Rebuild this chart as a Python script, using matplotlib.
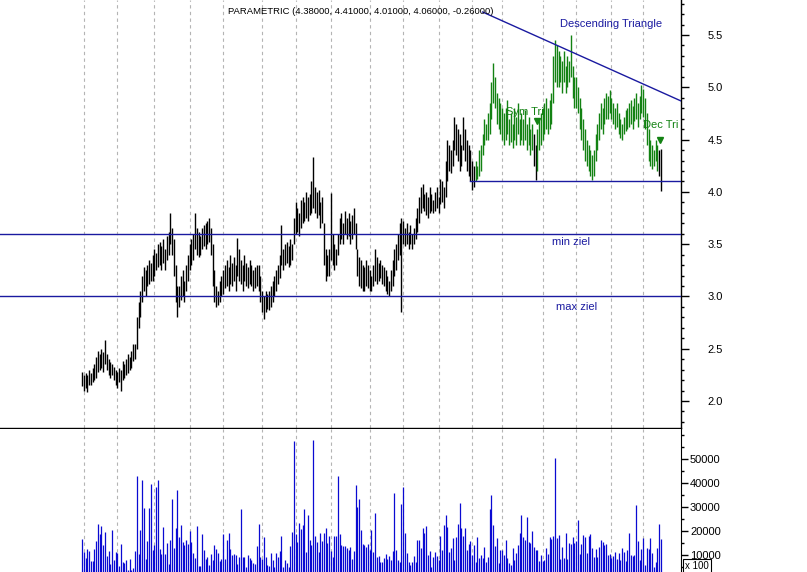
import numpy as np
import matplotlib
matplotlib.use("Agg")
import matplotlib.pyplot as plt
from matplotlib.ticker import MultipleLocator, FixedLocator, FormatStrFormatter

plt.rcParams['font.family'] = ['Liberation Sans', 'DejaVu Sans']

# daily bars, high / low (one row = 10 sessions)
bar_high = [
    2.28, 2.25, 2.27, 2.25, 2.30, 2.27, 2.32, 2.35, 2.42, 2.48,
    2.45, 2.50, 2.47, 2.58, 2.45, 2.40, 2.37, 2.35, 2.33, 2.30,
    2.28, 2.32, 2.30, 2.38, 2.35, 2.40, 2.45, 2.42, 2.48, 2.55,
    2.55, 2.80, 2.95, 3.05, 3.20, 3.28, 3.25, 3.30, 3.35, 3.32,
    3.40, 3.45, 3.42, 3.50, 3.52, 3.48, 3.55, 3.45, 3.58, 3.62,
    3.80, 3.65, 3.55, 3.30, 3.10, 3.10, 3.20, 3.25, 3.15, 3.30,
    3.40, 3.50, 3.55, 3.60, 3.80, 3.65, 3.62, 3.58, 3.65, 3.68,
    3.70, 3.72, 3.75, 3.65, 3.50, 3.25, 3.10, 3.05, 3.15, 3.20,
    3.25, 3.30, 3.35, 3.28, 3.40, 3.32, 3.38, 3.30, 3.56, 3.45,
    3.35, 3.30, 3.40, 3.32, 3.28, 3.35, 3.30, 3.25, 3.28, 3.30,
    3.30, 3.20, 3.05, 3.00, 3.05, 3.02, 3.05, 3.10, 3.15, 3.20,
    3.25, 3.30, 3.40, 3.68, 3.45, 3.50, 3.52, 3.48, 3.55, 3.50,
    3.75, 3.90, 3.85, 3.80, 3.92, 3.95, 3.90, 4.00, 3.95, 3.98,
    4.10, 4.33, 4.05, 4.00, 4.02, 3.90, 3.95, 3.70, 3.45, 3.40,
    3.45, 3.99, 3.60, 3.50, 3.45, 3.60, 3.75, 3.80, 3.70, 3.82,
    3.75, 3.80, 3.72, 3.78, 3.85, 3.70, 3.45, 3.38, 3.35, 3.30,
    3.28, 3.35, 3.30, 3.25, 3.20, 3.30, 3.45, 3.38, 3.32, 3.35,
    3.30, 3.28, 3.25, 3.20, 3.15, 3.25, 3.35, 3.45, 3.50, 3.60,
    3.70, 3.75, 3.72, 3.65, 3.70, 3.62, 3.68, 3.60, 3.65, 3.75,
    3.85, 3.95, 4.05, 4.08, 3.98, 4.00, 3.95, 4.05, 3.98, 3.92,
    4.00, 4.05, 3.95, 4.12, 4.10, 4.05, 4.30, 4.50, 4.45, 4.40,
    4.50, 4.72, 4.65, 4.60, 4.55, 4.45, 4.72, 4.60, 4.50, 4.45,
    4.40, 4.30, 4.25, 4.30, 4.25, 4.40, 4.45, 4.55, 4.70, 4.65,
    4.75, 4.85, 5.05, 5.23, 5.10, 4.95, 4.90, 4.85, 4.80, 4.75,
    4.80, 4.88, 4.70, 4.75, 4.65, 4.80, 4.72, 4.85, 4.70, 4.75,
    4.70, 4.78, 4.65, 4.72, 4.60, 4.65, 4.55, 4.45, 4.60, 4.70,
    4.75, 4.80, 4.85, 4.90, 4.80, 4.88, 4.95, 5.30, 5.45, 5.40,
    5.35, 5.30, 5.25, 5.35, 5.20, 5.30, 5.25, 5.50, 5.20, 5.10,
    5.10, 5.00, 4.90, 4.80, 4.70, 4.60, 4.50, 4.45, 4.40, 4.35,
    4.40, 4.55, 4.65, 4.75, 4.85, 4.80, 4.90, 4.95, 4.92, 4.97,
    4.90, 4.85, 4.80, 4.85, 4.75, 4.70, 4.65, 4.72, 4.78, 4.80,
    4.85, 4.88, 4.82, 4.90, 4.95, 4.85, 4.92, 5.02, 4.98, 4.90,
    4.75, 4.60, 4.50, 4.45, 4.40, 4.50, 4.45, 4.40, 4.41,
]
bar_low = [
    2.14, 2.10, 2.12, 2.09, 2.15, 2.15, 2.18, 2.20, 2.22, 2.28,
    2.30, 2.32, 2.28, 2.35, 2.30, 2.25, 2.22, 2.25, 2.20, 2.15,
    2.12, 2.18, 2.10, 2.20, 2.22, 2.25, 2.27, 2.30, 2.32, 2.38,
    2.40, 2.50, 2.70, 2.80, 2.95, 3.05, 3.00, 3.10, 3.12, 3.15,
    3.15, 3.20, 3.25, 3.28, 3.30, 3.25, 3.32, 3.25, 3.35, 3.40,
    3.50, 3.40, 3.20, 2.95, 2.80, 2.90, 2.97, 3.00, 2.95, 3.05,
    3.15, 3.25, 3.30, 3.35, 3.45, 3.40, 3.38, 3.40, 3.45, 3.48,
    3.45, 3.50, 3.52, 3.40, 3.10, 2.95, 2.90, 2.92, 2.95, 3.00,
    3.02, 3.08, 3.10, 3.05, 3.12, 3.10, 3.15, 3.05, 3.20, 3.15,
    3.12, 3.05, 3.15, 3.10, 3.08, 3.12, 3.10, 3.05, 3.08, 3.10,
    3.05, 2.95, 2.85, 2.78, 2.85, 2.88, 2.87, 2.90, 2.95, 3.00,
    3.05, 3.12, 3.18, 3.30, 3.25, 3.30, 3.32, 3.28, 3.30, 3.35,
    3.50, 3.60, 3.62, 3.58, 3.65, 3.70, 3.72, 3.75, 3.72, 3.78,
    3.80, 3.85, 3.80, 3.75, 3.78, 3.65, 3.70, 3.30, 3.15, 3.20,
    3.20, 3.35, 3.30, 3.25, 3.30, 3.40, 3.50, 3.55, 3.50, 3.60,
    3.55, 3.58, 3.50, 3.55, 3.60, 3.45, 3.20, 3.10, 3.08, 3.05,
    3.05, 3.10, 3.08, 3.05, 3.05, 3.10, 3.15, 3.12, 3.15, 3.18,
    3.12, 3.10, 3.05, 3.02, 3.00, 3.05, 3.10, 3.20, 3.25, 3.35,
    3.40, 2.85, 3.50, 3.48, 3.50, 3.45, 3.50, 3.45, 3.50, 3.55,
    3.62, 3.70, 3.80, 3.85, 3.82, 3.78, 3.75, 3.80, 3.82, 3.80,
    3.82, 3.85, 3.80, 3.88, 3.90, 3.85, 3.95, 4.10, 4.20, 4.18,
    4.25, 4.40, 4.35, 4.30, 4.20, 4.25, 4.40, 4.30, 4.20, 4.15,
    4.10, 4.02, 4.05, 4.10, 4.12, 4.15, 4.20, 4.35, 4.45, 4.50,
    4.50, 4.55, 4.70, 4.85, 4.80, 4.65, 4.60, 4.55, 4.50, 4.45,
    4.50, 4.55, 4.45, 4.48, 4.42, 4.50, 4.45, 4.55, 4.45, 4.50,
    4.45, 4.50, 4.40, 4.45, 4.35, 4.40, 4.25, 4.11, 4.20, 4.40,
    4.45, 4.50, 4.55, 4.60, 4.55, 4.60, 4.65, 4.85, 5.05, 5.00,
    5.00, 5.05, 4.95, 5.05, 4.95, 5.00, 5.05, 5.10, 4.90, 4.80,
    4.80, 4.75, 4.60, 4.50, 4.40, 4.30, 4.25, 4.20, 4.15, 4.11,
    4.15, 4.30, 4.40, 4.50, 4.60, 4.55, 4.65, 4.70, 4.70, 4.75,
    4.70, 4.65, 4.60, 4.62, 4.55, 4.52, 4.50, 4.55, 4.58, 4.60,
    4.62, 4.65, 4.60, 4.68, 4.70, 4.62, 4.70, 4.75, 4.72, 4.60,
    4.45, 4.30, 4.25, 4.22, 4.25, 4.30, 4.20, 4.15, 4.01,
]
# volume in thousands of shares (axis shows x 100)
volume_k = [
    16.7, 11.2, 8.7, 12.5, 11.7, 7.5, 7.5, 12.5, 15.8, 22.9,
    18.7, 22.0, 14.0, 19.6, 9.6, 11.7, 6.2, 20.4, 7.9, 11.2,
    11.0, 5.4, 14.6, 7.1, 6.7, 7.9, 3.7, 8.3, 3.7, 4.6,
    11.7, 42.9, 10.4, 20.4, 41.2, 29.6, 8.3, 15.8, 29.6, 39.6,
    12.0, 14.0, 38.3, 41.2, 12.5, 10.4, 21.7, 10.4, 15.0, 6.2,
    16.2, 33.3, 12.9, 21.2, 37.1, 17.5, 22.5, 15.4, 14.0, 16.2,
    14.6, 20.0, 15.4, 11.0, 8.7, 22.0, 5.4, 5.4, 18.7, 12.0,
    8.3, 9.2, 5.8, 10.4, 7.9, 14.0, 12.5, 11.0, 7.5, 8.3,
    18.7, 8.3, 16.2, 19.2, 12.5, 10.0, 10.4, 10.0, 6.2, 9.2,
    29.2, 9.2, 9.2, 5.0, 10.0, 8.7, 7.9, 6.7, 6.2, 13.7,
    22.9, 9.2, 8.3, 17.5, 9.2, 5.8, 5.4, 11.0, 7.9, 5.0,
    11.0, 9.2, 11.7, 17.9, 5.0, 7.9, 6.7, 5.0, 13.7, 19.6,
    57.5, 18.7, 15.4, 23.3, 20.8, 22.5, 29.2, 11.2, 26.7, 16.2,
    14.0, 57.9, 17.9, 15.4, 11.2, 19.2, 15.8, 19.2, 21.2, 15.0,
    17.9, 11.7, 9.2, 17.9, 17.9, 42.9, 18.7, 14.0, 13.7, 13.7,
    12.9, 12.0, 13.3, 8.3, 11.7, 39.2, 30.0, 33.3, 20.4, 14.6,
    14.0, 13.3, 14.6, 12.0, 20.4, 11.2, 27.5, 9.2, 9.6, 7.1,
    7.1, 8.7, 10.4, 8.3, 9.6, 7.9, 11.7, 35.8, 12.0, 7.9,
    7.1, 31.2, 38.3, 19.2, 11.0, 7.1, 5.8, 7.1, 9.6, 7.1,
    16.2, 16.2, 12.9, 21.2, 19.2, 22.0, 10.0, 11.7, 5.0, 9.2,
    11.2, 9.6, 7.9, 17.9, 12.0, 22.5, 26.7, 21.7, 11.2, 12.9,
    17.1, 7.9, 17.5, 22.9, 31.7, 21.2, 17.9, 21.2, 12.0, 14.6,
    15.8, 10.0, 14.0, 7.1, 17.5, 8.7, 10.0, 8.7, 13.3, 7.1,
    9.2, 29.2, 35.0, 22.5, 13.7, 17.1, 6.7, 12.0, 12.0, 10.0,
    16.2, 8.7, 6.7, 5.8, 12.9, 7.9, 11.0, 14.0, 19.2, 26.7,
    17.5, 16.2, 25.8, 15.4, 15.0, 20.0, 13.3, 12.0, 12.0, 7.5,
    10.0, 7.5, 7.9, 12.9, 10.4, 17.5, 16.7, 17.9, 50.4, 17.1,
    18.3, 8.3, 13.3, 8.7, 19.2, 8.3, 15.0, 14.6, 17.5, 15.0,
    15.8, 24.6, 10.4, 14.6, 18.3, 17.5, 11.0, 17.9, 18.7, 12.9,
    9.2, 12.5, 9.2, 13.3, 16.2, 15.4, 14.0, 14.6, 10.0, 10.4,
    8.7, 9.6, 11.2, 8.3, 11.0, 7.9, 12.9, 11.2, 7.5, 12.0,
    19.2, 10.0, 9.6, 10.0, 30.8, 15.8, 7.9, 12.5, 17.1, 5.8,
    12.9, 12.5, 17.1, 11.0, 5.0, 7.1, 12.9, 22.9, 16.7,
]
# bar index of each month start (vertical grid)
month_starts = [1, 20, 41, 61, 80, 102, 121, 141, 163, 182, 202, 221, 238, 261, 280, 300, 318]

# pattern (green) section and the bars left black inside it
pattern_first, pattern_last = 223, 326
pattern_black = [256, 257]

# drawn lines / levels
min_ziel = 3.6
max_ziel = 3.0
support_level = 4.10
support_from = 220
trend_start = (227, 5.72)
trend_end = (340, 4.865)

title_txt = "PARAMETRIC (4.38000, 4.41000, 4.01000, 4.06000, -0.26000)"

NAVY = '#1a1aa0'
GREEN = '#138213'
VOLBLUE = '#0a0ad2'
GRID = '#b4b4b4'

n = min(len(bar_high), len(bar_low), len(volume_k))
idx = np.arange(n)
hi = np.array(bar_high[:n])
lo = np.array(bar_low[:n])
vol = np.array(volume_k[:n]) * 1000

colors = []
for i in range(n):
    if pattern_first <= i <= pattern_last and i not in pattern_black:
        colors.append(GREEN)
    else:
        colors.append('black')

W, H = 807, 572
fig = plt.figure(figsize=(W / 100, H / 100), dpi=100)
ax = fig.add_axes([0, 1 - 428 / H, 681 / W, 428 / H])
axv = fig.add_axes([0, 0, 681 / W, 143 / H])

xlim = (-46.5, 339.4)

# price panel
for m in month_starts:
    ax.axvline(m, color=GRID, lw=0.8, ls=(0, (3, 3)), zorder=0)
ax.vlines(idx, lo, hi, colors=colors, lw=1.0, zorder=2)
ax.axhline(min_ziel, color=NAVY, lw=1.0, zorder=3)
ax.axhline(max_ziel, color=NAVY, lw=1.0, zorder=3)
ax.plot([support_from, xlim[1]], [support_level, support_level], color=NAVY, lw=1.0, zorder=3)
ax.plot([trend_start[0], trend_end[0]], [trend_start[1], trend_end[1]], color=NAVY, lw=1.0, zorder=3)

ax.text(300, 5.61, "Descending Triangle", color=NAVY, fontsize=8, ha='center', va='center')
ax.text(277, 3.52, "min ziel", color=NAVY, fontsize=8, ha='center', va='center')
ax.text(280, 2.90, "max ziel", color=NAVY, fontsize=8, ha='center', va='center')
ax.text(251, 4.76, "Sym Tri", color=GREEN, fontsize=8, ha='center', va='center', zorder=5)
ax.text(328, 4.64, "Dec Tri", color=GREEN, fontsize=8, ha='center', va='center', zorder=5)
ax.plot([258, 327.5], [4.68, 4.50], ls='none', marker='v', ms=5, color=GREEN, zorder=4)

ax.set_xlim(*xlim)
ax.set_ylim(1.742, 5.835)
for s in ['left', 'top']:
    ax.spines[s].set_visible(False)
ax.spines['right'].set_linewidth(1.0)
ax.spines['bottom'].set_linewidth(1.0)
ax.set_xticks([])
ax.yaxis.tick_right()
ax.yaxis.set_major_locator(FixedLocator([2.0, 2.5, 3.0, 3.5, 4.0, 4.5, 5.0, 5.5]))
ax.yaxis.set_minor_locator(MultipleLocator(0.1))
ax.yaxis.set_major_formatter(FormatStrFormatter('%.1f'))
ax.tick_params(axis='y', which='major', direction='out', length=6, width=1, pad=13, labelsize=8)
ax.tick_params(axis='y', which='minor', direction='out', length=2.5, width=1)

# volume panel
for m in month_starts:
    axv.axvline(m, color=GRID, lw=0.8, ls=(0, (3, 3)), zorder=0)
axv.vlines(idx, 0, vol, colors=VOLBLUE, lw=0.9, zorder=2)
axv.set_xlim(*xlim)
axv.set_ylim(2900, 62500)
for s in ['left', 'top', 'bottom']:
    axv.spines[s].set_visible(False)
axv.set_xticks([])
axv.yaxis.tick_right()
axv.yaxis.set_major_locator(FixedLocator([10000, 20000, 30000, 40000, 50000]))
axv.yaxis.set_minor_locator(MultipleLocator(5000))
axv.tick_params(axis='y', which='major', direction='out', length=5, width=1, pad=1.5, labelsize=8)
axv.tick_params(axis='y', which='minor', direction='out', length=2.5, width=1)

fig.text(228 / W, 1 - 11 / H, title_txt, fontsize=6.8, ha='left', va='center')
fig.text(685 / W, 1 - 566 / H, "x 100", fontsize=7, ha='left', va='center',
         bbox=dict(boxstyle='square,pad=0.2', fc='white', ec='black', lw=0.8))

fig.savefig("out.png", dpi=100)
